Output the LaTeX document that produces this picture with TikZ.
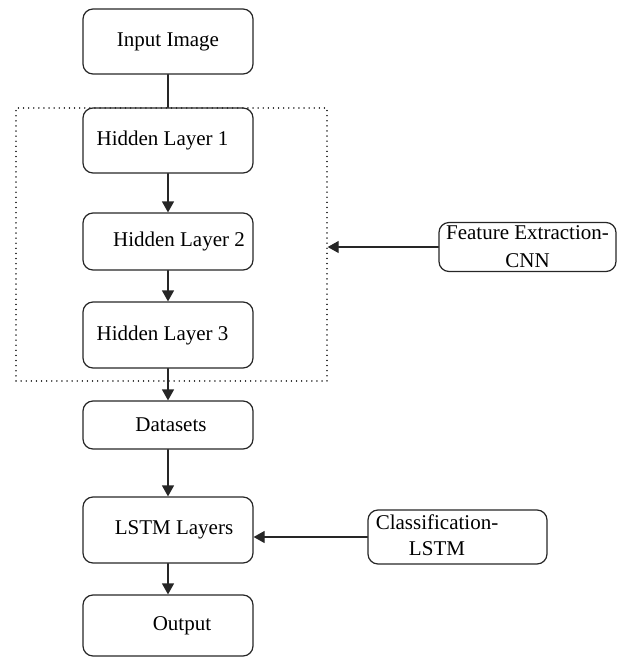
\documentclass[tikz,border=0pt]{standalone}
\usepackage{fontspec}
\setmainfont{Liberation Serif}
\usetikzlibrary{arrows.meta,positioning}

\begin{document}
\begin{tikzpicture}[x=1pt,y=-1pt,line cap=round,line join=round,
  stage/.style={draw=black!85,line width=1.2pt,rounded corners=10pt,minimum width=170pt,inner sep=1pt,font=\fontsize{21}{26}\selectfont},
  side/.style={stage,align=center},
  link/.style={draw=black!85,line width=1.2pt},
  flow/.style={link,-{Triangle[length=11pt,width=12pt]}}]
\path[use as bounding box] (0,0) rectangle (617,657);
\node[draw=black!85,line width=1.4pt,dash pattern=on 0.1pt off 5pt,minimum width=311pt,minimum height=273pt] (cnnblock) at (171.5,244.5) {};
\node[stage,minimum height=65pt] (input) at (168,41.5) {Input Image};
\node[stage,minimum height=65pt] (hl1) at (168,140.5) {Hidden Layer 1\hspace*{11pt}};
\node[stage,minimum height=57pt] (hl2) at (168,241.5) {\hspace*{22pt}Hidden Layer 2};
\node[stage,minimum height=66pt] (hl3) at (168,335) {Hidden Layer 3\hspace*{11pt}};
\node[stage,minimum height=48pt] (data) at (168,425) {\hspace*{6pt}Datasets};
\node[stage,minimum height=66pt] (lstm) at (168,530) {\hspace*{12pt}LSTM Layers};
\node[stage,minimum height=61pt] (out) at (168,625.5) {\hspace*{28pt}Output};
\node[side,minimum width=177pt,minimum height=49pt,font=\fontsize{21}{28}\selectfont] (feat) at (527.5,247) {Feature Extraction-\\CNN};
\node[stage,minimum width=179pt,minimum height=52pt] (cls) at (457.5,537) {\begin{tabular}{@{}c@{\hspace{41pt}}}Classification-\\LSTM\end{tabular}};
\draw[link] (input) -- (hl1);
\draw[flow] (hl1) -- (hl2);
\draw[flow] (hl2) -- (hl3);
\draw[flow] (hl3) -- (data);
\draw[flow] (data) -- (lstm);
\draw[flow] (lstm) -- (out);
\draw[flow] (feat.west) -- (feat.west -| cnnblock.east);
\draw[flow] (cls.west) -- (cls.west -| lstm.east);
\end{tikzpicture}
\end{document}
